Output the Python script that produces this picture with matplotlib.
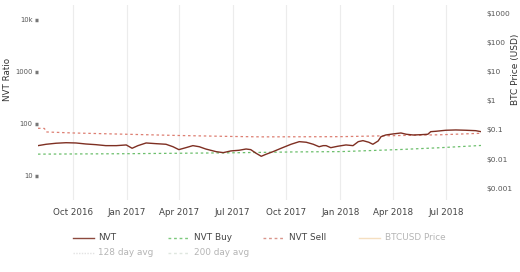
import matplotlib
matplotlib.use('Agg')
import matplotlib.pyplot as plt
from matplotlib.lines import Line2D
import pandas as pd

# NVT ratio (daily)
nvt_dates = ['2016-08-02', '2016-08-16', '2016-09-02', '2016-09-19', '2016-10-06',
             '2016-10-23', '2016-11-09', '2016-11-26', '2016-12-14', '2016-12-31',
             '2017-01-10', '2017-01-20', '2017-02-03', '2017-02-20', '2017-03-09',
             '2017-03-21', '2017-03-31', '2017-04-12', '2017-04-24', '2017-05-05',
             '2017-05-16', '2017-06-03', '2017-06-15', '2017-06-28', '2017-07-12',
             '2017-07-24', '2017-08-01', '2017-08-10', '2017-08-19', '2017-08-27',
             '2017-09-08', '2017-09-22', '2017-10-09', '2017-10-23', '2017-11-04',
             '2017-11-16', '2017-11-26', '2017-12-03', '2017-12-08', '2017-12-16',
             '2017-12-28', '2018-01-11', '2018-01-23', '2018-02-01', '2018-02-09',
             '2018-02-19', '2018-02-26', '2018-03-07', '2018-03-12', '2018-03-20',
             '2018-04-01', '2018-04-15', '2018-04-24', '2018-05-06', '2018-05-19',
             '2018-05-31', '2018-06-05', '2018-06-14', '2018-07-01', '2018-07-18',
             '2018-08-04', '2018-08-21', '2018-08-30']
nvt_values = [38.3, 40.7, 42.6, 43.6, 43.1, 41.2, 40.0, 38.3, 38.3, 39.5,
              34.1, 38.3, 43.1, 41.8, 40.7, 36.5, 32.1, 35.0, 38.3, 36.5,
              33.0, 29.3, 28.1, 30.3, 31.2, 33.0, 32.1, 27.4, 23.9, 26.1,
              29.3, 34.1, 40.7, 45.7, 44.5, 40.7, 36.5, 38.3, 38.3, 35.0,
              37.3, 39.5, 38.3, 45.7, 47.8, 44.5, 40.7, 47.1, 57.0, 61.4,
              64.2, 67.1, 63.4, 61.4, 62.2, 63.4, 71.1, 72.4, 75.7, 76.7,
              75.7, 74.3, 71.1]

buy_dates = ['2016-08-02', '2017-01-01', '2017-06-30', '2017-10-15', '2018-01-02',
             '2018-04-15', '2018-06-22', '2018-08-30']
buy_values = [26.3, 26.8, 27.9, 29.0, 29.4, 32.3, 35.0, 38.6]

sell_dates = ['2016-08-02', '2016-08-13', '2016-08-16', '2016-10-01', '2017-01-01',
              '2017-03-31', '2017-06-30', '2017-08-19', '2018-01-02', '2018-04-15',
              '2018-06-22', '2018-08-30']
sell_values = [82.6, 82.0, 70.2, 67.1, 63.4, 60.0, 57.5, 56.5, 57.0, 60.0, 62.0, 66.2]

left_ticks = [10, 100, 1000, 10000]
left_labels = ['10', '100', '1000', '10k']
right_ticks = [0.001, 0.01, 0.1, 1, 10, 100, 1000]
right_labels = ['$0.001', '$0.01', '$0.1', '$1', '$10', '$100', '$1000']
month_ticks = ['2016-10-01', '2017-01-01', '2017-04-01', '2017-07-01', '2017-10-01',
               '2018-01-01', '2018-04-01', '2018-07-01']

W, H = 520, 272
fig = plt.figure(figsize=(W / 100, H / 100), dpi=100)
ax = fig.add_axes([38 / W, 1 - 200 / H, 443 / W, 195 / H])
ax2 = ax.twinx()

ax.plot(pd.to_datetime(nvt_dates), nvt_values, color='#7e2f22', lw=1.0, zorder=3)
ax.plot(pd.to_datetime(buy_dates), buy_values, color='#6cbf6c', lw=0.9,
        ls=(0, (2, 2.2)), zorder=2)
ax.plot(pd.to_datetime(sell_dates), sell_values, color='#dd7f72', lw=0.9,
        ls=(0, (2, 2.2)), zorder=2)

ax.set_yscale('log')
ax.set_ylim(3.45, 19400)
ax.set_xlim(pd.Timestamp('2016-08-02'), pd.Timestamp('2018-08-30'))
ax.set_yticks(left_ticks)
ax.set_yticklabels(left_labels)
ax.minorticks_off()
ax.tick_params(axis='y', length=2.5, width=2.5, color='#777', pad=1.5,
               labelsize=4.9, labelcolor='#555')
ax.set_xticks(pd.to_datetime(month_ticks))
ax.set_xticklabels([pd.Timestamp(d).strftime('%b %Y') for d in month_ticks])
ax.tick_params(axis='x', length=0, pad=6, labelsize=6.3, labelcolor='#444')
ax.grid(axis='x', color='#ececec', lw=0.8)
ax.set_axisbelow(True)
for s in ax.spines.values():
    s.set_visible(False)

ax2.set_yscale('log')
ax2.set_ylim(0.000386, 2040)
ax2.set_yticks(right_ticks)
ax2.set_yticklabels(right_labels)
ax2.minorticks_off()
ax2.tick_params(axis='y', length=0, pad=4, labelsize=5.4, labelcolor='#555')
for s in ax2.spines.values():
    s.set_visible(False)

ax.set_ylabel('NVT Ratio', fontsize=6.3, color='#333')
ax.yaxis.set_label_coords(-0.058, 0.62)
ax2.set_ylabel('BTC Price (USD)', fontsize=6.5, color='#333')
ax2.yaxis.set_label_coords(1.068, 0.67)

# legend drawn by hand to match the spacing of the original
legend = [
    ('NVT', '#8d4a3e', '-', '#444', 73, 98, 237.7),
    ('NVT Buy', '#7cc97c', (0, (2, 2)), '#444', 168, 194, 237.7),
    ('NVT Sell', '#d9958b', (0, (2, 2)), '#444', 263, 289, 237.7),
    ('BTCUSD Price', '#f5dfc0', '-', '#b5b5b5', 359, 385, 237.7),
    ('128 day avg', '#e2e2e2', (0, (1, 1)), '#b5b5b5', 73, 98, 252.7),
    ('200 day avg', '#dfe6df', (0, (2, 2)), '#b5b5b5', 168, 194, 252.7),
]
for label, col, ls, tcol, x0, xt, y in legend:
    fig.add_artist(Line2D([x0 / W, (x0 + 21) / W], [1 - y / H] * 2,
                          transform=fig.transFigure, color=col, ls=ls, lw=1))
    fig.text(xt / W, 1 - y / H, label, fontsize=6.4, color=tcol,
             va='center', ha='left')

fig.savefig('out.png', dpi=100)
